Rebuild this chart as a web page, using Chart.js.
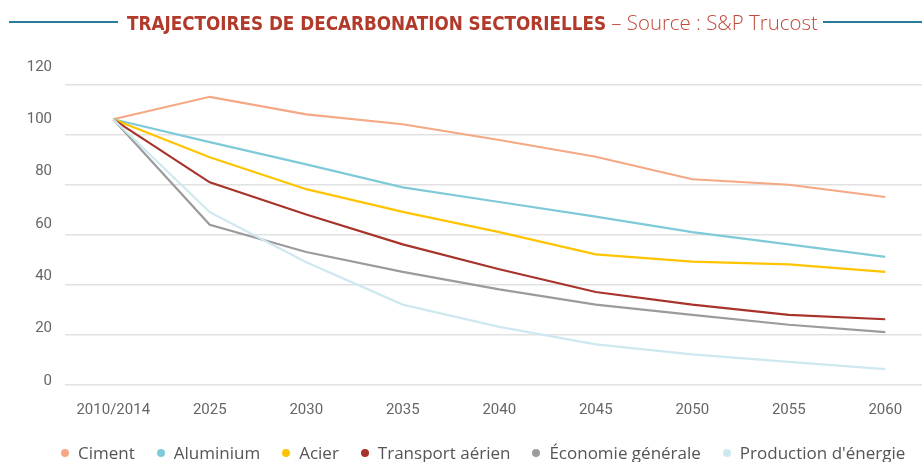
<!DOCTYPE html>
<html lang="fr">
<head>
<meta charset="utf-8">
<title>Trajectoires de décarbonation sectorielles</title>
<script src="https://cdn.jsdelivr.net/npm/chart.js@4.4.1/dist/chart.umd.min.js"></script>
<style>
  html, body { margin: 0; padding: 0; background: #fff; overflow: hidden; }
  #page { position: relative; width: 922px; height: 462px; overflow: hidden; }
  #graphe { position: absolute; left: 0; top: 0; }

  .titre { position: absolute; left: 0; top: 9px; width: 922px; height: 26px; }
  .titre .trait { position: absolute; top: 12px; height: 2px; background: #2b7c9c; }
  .titre .texte { position: absolute; left: 127px; top: 0; white-space: nowrap; line-height: 26px; color: #b23a2b; }
  .titre .gras { font-family: "DejaVu Sans Condensed", "DejaVu Sans", sans-serif; font-weight: bold; font-size: 18.7px; }
  .titre .source { font-family: "Open Sans", sans-serif; font-weight: 300; font-size: 20.4px; color: #c0493a; }

  #legende { position: absolute; left: 61px; top: 441px; display: flex; align-items: center;
             font-family: "Open Sans", sans-serif; font-size: 17px; color: #555; white-space: nowrap; }
  #legende .item { display: flex; align-items: center; margin-right: 22px; }
  #legende .puce { width: 8px; height: 8px; border-radius: 50%; margin-right: 9px; }
</style>
</head>
<body>
<div id="page">
  <canvas id="graphe" width="940" height="462"></canvas>

  <div class="titre">
    <div class="trait" style="left:9px; width:109px"></div>
    <div class="texte"><span class="gras">TRAJECTOIRES DE DECARBONATION SECTORIELLES</span><span class="source"> – Source : S&amp;P Trucost</span></div>
    <div class="trait" style="left:823px; width:99px"></div>
  </div>

  <div id="legende"></div>
</div>

<script>
// periodes et trajectoires (indice, base 2010/2014)
const annees = ['2010/2014', '2025', '2030', '2035', '2040', '2045', '2050', '2055', '2060'];

const ciment = [100, 108.6, 101.9, 98.1, 92.1, 85.7, 77.1, 75.0, 70.3];
const aluminium = [100, 91.3, 82.8, 74.0, 68.4, 62.8, 56.9, 52.2, 47.4];
const acier = [100, 85.5, 73.3, 64.6, 56.9, 48.4, 45.6, 44.6, 41.7];
const transportAerien = [100, 75.9, 63.6, 52.2, 42.7, 34.0, 29.2, 25.3, 23.6];
const economieGenerale = [100, 59.7, 49.3, 41.7, 35.0, 29.2, 25.3, 21.5, 18.7];
const productionEnergie = [100, 64.5, 45.4, 29.2, 20.7, 14.0, 10.2, 7.3, 4.5];

const graduations = [0, 20, 40, 60, 80, 100, 120];

const series = [
    { label: 'Ciment', data: ciment, couleur: '#f5a884' },
    { label: 'Aluminium', data: aluminium, couleur: '#7fcad8' },
    { label: 'Acier', data: acier, couleur: '#ffc400' },
    { label: 'Transport aérien', data: transportAerien, couleur: '#a8332b' },
    { label: 'Économie générale', data: economieGenerale, couleur: '#9b9b9b' },
    { label: "Production d'énergie", data: productionEnergie, couleur: '#cde9ef' }
];

function fixerTicks(axis) {
    axis.ticks = graduations.map(v => ({ value: v }));
}

var ctx = document.getElementById('graphe').getContext('2d');

var graphe = new Chart(ctx, {
    type: 'line',
    data: {
        labels: annees,
        datasets: series.map(s => ({
            label: s.label,
            data: s.data,
            borderColor: s.couleur,
            backgroundColor: s.couleur,
            borderWidth: 2.2,
            pointRadius: 0,
            tension: 0,
            yAxisID: 'y'
        })).reverse()
    },
    options: {
        responsive: false,
        animation: false,
        devicePixelRatio: 1,
        layout: { padding: { top: 60, bottom: 42, left: 0, right: 6.5 } },
        plugins: {
            legend: { display: false },
            tooltip: { enabled: false }
        },
        scales: {
            x: {
                offset: true,
                grid: { display: false, drawTicks: false },
                border: { display: false },
                ticks: {
                    color: '#666',
                    padding: 11,
                    maxRotation: 0,
                    autoSkip: false,
                    font: { family: 'Roboto', size: 15 }
                },
                afterFit: axis => { axis.height = 30; }
            },
            y: {
                position: 'left',
                min: -3.44,
                max: 122.66,
                afterBuildTicks: fixerTicks,
                grid: { display: false, drawTicks: false },
                border: { display: false },
                ticks: {
                    color: '#666',
                    padding: 13,
                    font: { family: 'Roboto', size: 15 }
                },
                afterFit: axis => { axis.width = 65; }
            },
            // lignes de grille horizontales
            yg: {
                position: 'right',
                min: -2.28,
                max: 129.72,
                afterBuildTicks: fixerTicks,
                grid: { color: '#e1e1e1', lineWidth: 1.5, drawTicks: false },
                border: { display: false },
                ticks: { display: false },
                afterFit: axis => { axis.width = 0; }
            }
        }
    }
});

// legende
var legende = document.getElementById('legende');
series.forEach(s => {
    var item = document.createElement('span');
    item.className = 'item';
    var puce = document.createElement('span');
    puce.className = 'puce';
    puce.style.background = s.couleur;
    var txt = document.createElement('span');
    txt.textContent = s.label;
    item.appendChild(puce);
    item.appendChild(txt);
    legende.appendChild(item);
});
</script>
</body>
</html>
